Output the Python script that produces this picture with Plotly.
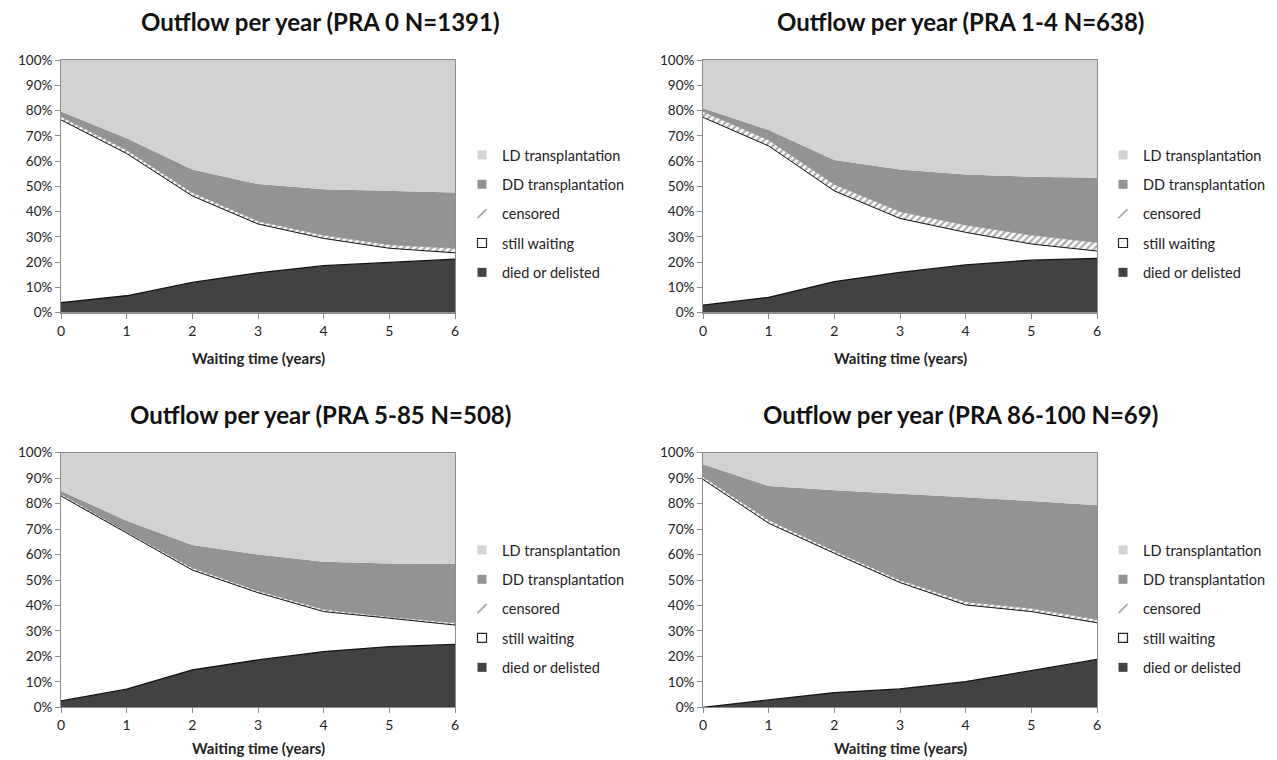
import plotly.graph_objects as go

years = [0, 1, 2, 3, 4, 5, 6]
titles = ["Outflow per year (PRA 0 N=1391)", "Outflow per year (PRA 1-4 N=638)",
          "Outflow per year (PRA 5-85 N=508)", "Outflow per year (PRA 86-100 N=69)"]
series_names = ["died or delisted", "still waiting", "censored", "DD transplantation", "LD transplantation"]
x_title = "Waiting time (years)"

# PRA 0
died_0 = [4.0, 6.7, 12.0, 15.8, 18.6, 20.0, 21.2]
waiting_0 = [72.3, 56.3, 34.2, 19.3, 10.8, 5.5, 2.5]
censored_0 = [1.3, 1.4, 1.4, 1.2, 1.3, 1.4, 1.8]
dd_0 = [2.0, 4.6, 9.1, 14.6, 18.2, 21.4, 22.1]
ld_0 = [20.4, 31.0, 43.3, 49.1, 51.1, 51.7, 52.4]

# PRA 1-4
died_1 = [3.0, 6.1, 12.3, 16.0, 18.9, 20.8, 21.5]
waiting_1 = [74.3, 59.9, 35.9, 21.3, 12.9, 6.4, 2.9]
censored_1 = [2.3, 2.3, 2.6, 2.7, 2.9, 3.5, 3.4]
dd_1 = [1.3, 4.0, 9.6, 16.7, 20.0, 23.1, 25.6]
ld_1 = [19.1, 27.7, 39.6, 43.3, 45.3, 46.2, 46.6]

# PRA 5-85
died_2 = [2.5, 7.1, 14.7, 18.6, 21.9, 23.8, 24.7]
waiting_2 = [80.5, 61.2, 39.2, 26.4, 15.7, 11.2, 7.6]
censored_2 = [0.8, 0.7, 0.9, 0.8, 0.9, 0.6, 0.9]
dd_2 = [1.2, 4.3, 8.9, 14.2, 18.7, 20.9, 23.1]
ld_2 = [15.0, 26.7, 36.3, 40.0, 42.8, 43.5, 43.7]

# PRA 86-100
died_3 = [0.0, 2.9, 5.8, 7.2, 10.1, 14.4, 18.8]
waiting_3 = [89.5, 69.4, 54.7, 41.8, 30.1, 23.2, 14.4]
censored_3 = [1.1, 1.3, 1.0, 1.0, 1.3, 1.3, 1.4]
dd_3 = [4.9, 13.3, 23.8, 34.0, 41.0, 42.1, 44.8]
ld_3 = [4.5, 13.1, 14.7, 16.0, 17.5, 19.0, 20.6]

panels = [
    (died_0, waiting_0, censored_0, dd_0, ld_0),
    (died_1, waiting_1, censored_1, dd_1, ld_1),
    (died_2, waiting_2, censored_2, dd_2, ld_2),
    (died_3, waiting_3, censored_3, dd_3, ld_3),
]

W, H = 1277, 760
FONT = "Lato, 'Open Sans', sans-serif"
C_DIED = "#424242"
C_DD = "#939393"
C_LD = "#d2d2d2"

# pixel layout of the plot areas (left, right, top, bottom)
boxes = [(61, 455, 60, 312.7), (703, 1097, 60, 312.7),
         (61, 455, 452.7, 707.3), (703, 1097, 452.7, 707.3)]
title_pos = [(320, 22), (960, 22), (320, 414), (960, 414)]
legend_pos = [(462, 139), (1103, 139), (462, 534), (1103, 534)]
xtitle_pos = [358, 358, 748, 748]

fig = go.Figure()
layout = {}
annotations = []

for i, (died, waiting, cens, dd, ld) in enumerate(panels):
    n = "" if i == 0 else str(i + 1)
    xa, ya = "x" + n, "y" + n
    sg = "s%d" % i
    leg = "legend" + n
    common = dict(x=years, xaxis=xa, yaxis=ya, stackgroup=sg, mode="lines",
                  showlegend=False, hoverinfo="skip")
    fig.add_trace(go.Scatter(y=died, fillcolor=C_DIED, line=dict(color="#111", width=1.3), **common))
    fig.add_trace(go.Scatter(y=waiting, fillcolor="white", line=dict(color="#111", width=1), **common))
    fig.add_trace(go.Scatter(y=cens, fillcolor="white",
                             fillpattern=dict(shape="/", fgcolor="#555", bgcolor="white", size=5, solidity=0.45),
                             line=dict(color="#888", width=0.6), **common))
    fig.add_trace(go.Scatter(y=dd, fillcolor=C_DD, line=dict(color=C_DD, width=0), **common))
    fig.add_trace(go.Scatter(y=ld, fillcolor=C_LD, line=dict(color=C_LD, width=0), **common))

    # legend entries
    leg_items = [
        ("LD transplantation", dict(symbol="square", size=9, color=C_LD, line=dict(width=0))),
        ("DD transplantation", dict(symbol="square", size=9, color=C_DD, line=dict(width=0))),
        ("censored", dict(symbol="line-ne", size=9, color="#aaa", line=dict(width=2, color="#aaa"))),
        ("still waiting", dict(symbol="square", size=9, color="white", line=dict(width=1.2, color="#222"))),
        ("died or delisted", dict(symbol="square", size=9, color=C_DIED, line=dict(width=0))),
    ]
    for k, (name, mk) in enumerate(leg_items):
        fig.add_trace(go.Scatter(x=[None], y=[None], xaxis=xa, yaxis=ya, mode="markers",
                                 name=name, marker=mk, legend=leg, legendgroup="g%d_%d" % (i, k),
                                 showlegend=True, hoverinfo="skip"))

    l, r, t, b = boxes[i]
    xkey = "xaxis" + n
    ykey = "yaxis" + n
    layout[xkey] = dict(domain=[l / W, r / W], range=[0, 6], dtick=1, tick0=0, automargin=False,
                        showgrid=False, zeroline=False, showline=True, linecolor="#8c8c8c",
                        linewidth=1, mirror=True, ticks="outside", ticklen=5, tickcolor="#8c8c8c",
                        tickfont=dict(family=FONT, size=14, color="#222"), anchor=ya, fixedrange=True)
    layout[ykey] = dict(domain=[1 - b / H, 1 - t / H], range=[0, 100], dtick=10, tick0=0,
                        automargin=False,
                        ticksuffix="%", showgrid=False, zeroline=False, showline=True,
                        linecolor="#8c8c8c", linewidth=1, mirror=True, ticks="outside", ticklen=5,
                        tickcolor="#8c8c8c", tickfont=dict(family=FONT, size=13.5, color="#222"),
                        anchor=xa, fixedrange=True)
    lx, ly = legend_pos[i]
    layout[leg] = dict(x=lx / W, y=1 - ly / H, xanchor="left", yanchor="top",
                       xref="paper", yref="paper", traceorder="grouped", tracegroupgap=7.5,
                       font=dict(family=FONT, size=14.5, color="#222"), bgcolor="rgba(0,0,0,0)",
                       itemclick=False, itemdoubleclick=False)
    tx, ty = title_pos[i]
    annotations.append(dict(text="<b>%s</b>" % titles[i], x=tx / W, y=1 - ty / H, xref="paper",
                            yref="paper", showarrow=False, xanchor="center", yanchor="middle",
                            font=dict(family=FONT, size=24, color="#111")))
    annotations.append(dict(text="<b>%s</b>" % x_title, x=((l + r) / 2) / W, y=1 - xtitle_pos[i] / H,
                            xref="paper", yref="paper", showarrow=False, xanchor="center",
                            yanchor="middle", font=dict(family=FONT, size=15, color="#222")))

fig.update_layout(width=W, height=H, margin=dict(l=0, r=0, t=0, b=0, autoexpand=False),
                  paper_bgcolor="white", plot_bgcolor="white", annotations=annotations,
                  hovermode=False, **layout)

fig.write_html("out.html", config={"displayModeBar": False})
